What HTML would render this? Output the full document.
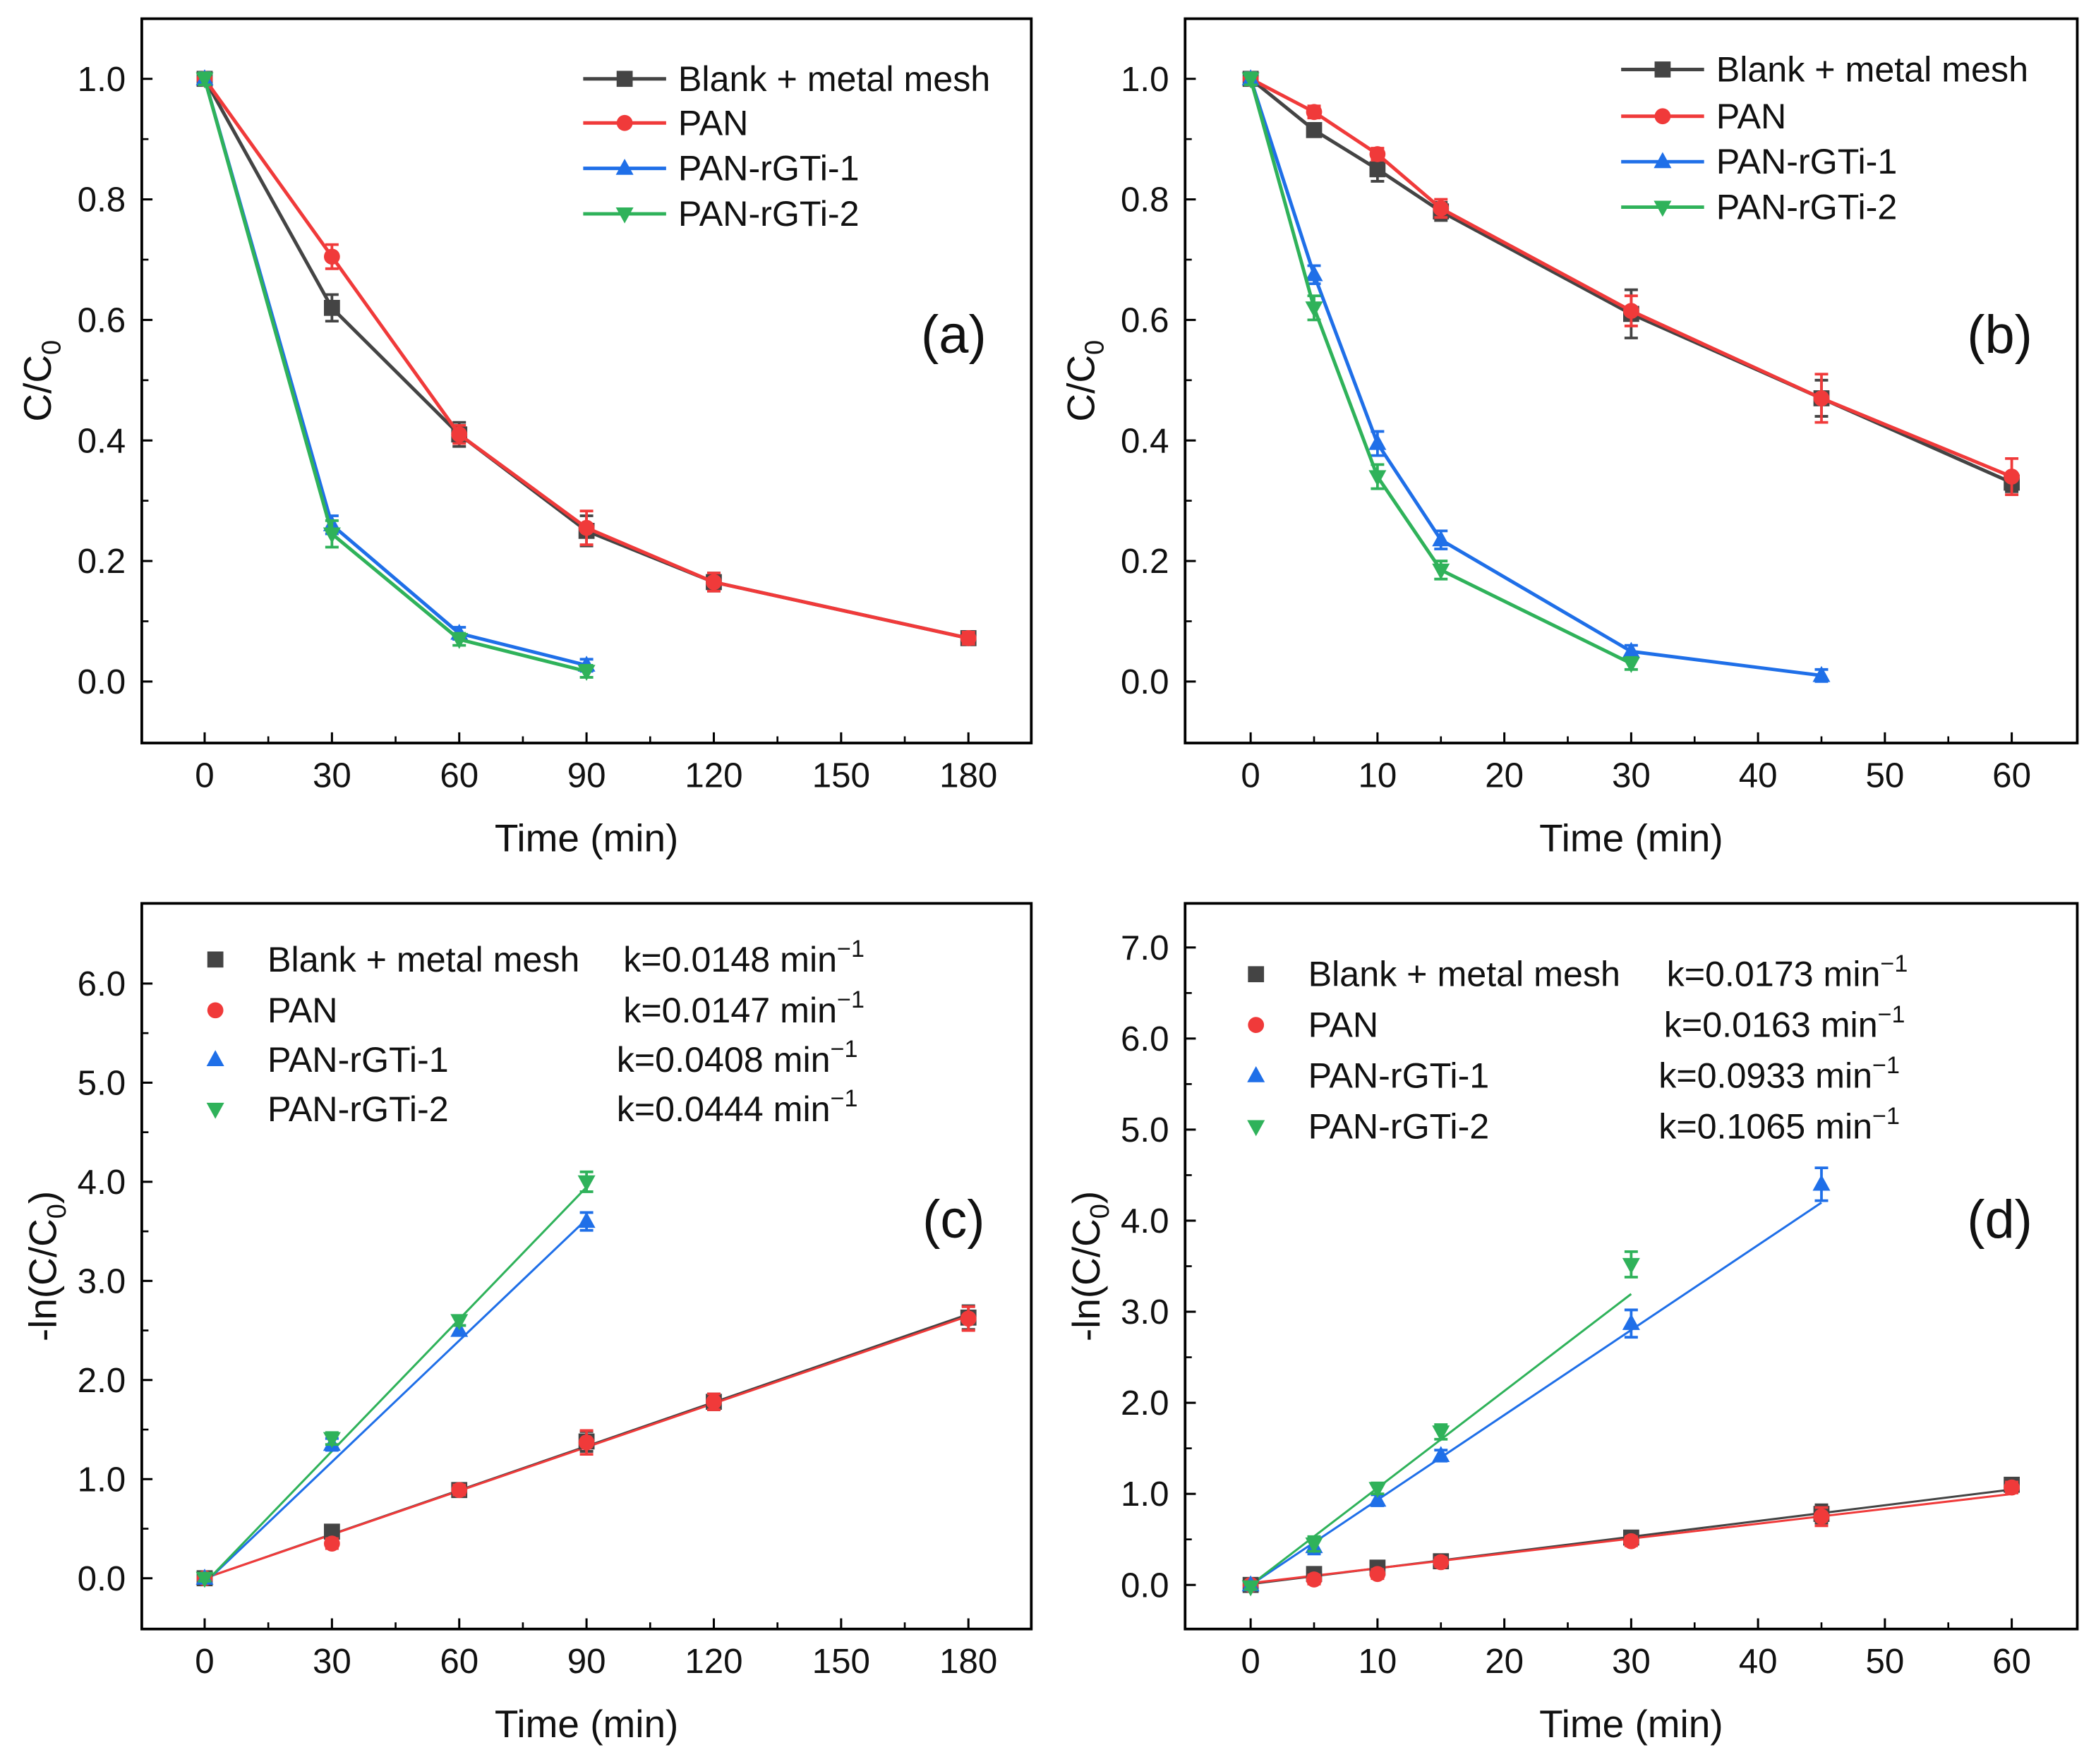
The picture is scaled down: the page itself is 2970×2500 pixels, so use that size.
<!DOCTYPE html>
<html><head><meta charset="utf-8"><style>
html,body{margin:0;padding:0;background:#fff;}
svg{display:block;font-family:"Liberation Sans",Arial,sans-serif;}
</style></head><body>
<svg id="fig" width="2970" height="2500" viewBox="0 0 1567 1320" preserveAspectRatio="none" xmlns="http://www.w3.org/2000/svg"></svg>
<script>
// ---- data ----
const aTime = [0, 30, 60, 90, 120, 180];
const aTimeShort = [0, 30, 60, 90];
const aBlank = [1, 0.62, 0.41, 0.25, 0.165, 0.072];
const aPAN = [1, 0.705, 0.41, 0.255, 0.165, 0.072];
const aG1 = [1, 0.26, 0.08, 0.027];
const aG2 = [1, 0.245, 0.07, 0.017];
const aBlankErr = [0.01, 0.022, 0.02, 0.025, 0.015, 0.01];
const aPANErr = [0.01, 0.02, 0.015, 0.028, 0.015, 0.01];
const aG1Err = [0.01, 0.015, 0.01, 0.01];
const aG2Err = [0.01, 0.022, 0.01, 0.01];

const bTime = [0, 5, 10, 15, 30, 45, 60];
const bTime1 = [0, 5, 10, 15, 30, 45];
const bTime2 = [0, 5, 10, 15, 30];
const bBlank = [1, 0.915, 0.85, 0.78, 0.61, 0.47, 0.33];
const bPAN = [1, 0.945, 0.875, 0.785, 0.615, 0.47, 0.34];
const bG1 = [1, 0.675, 0.395, 0.235, 0.05, 0.01];
const bG2 = [1, 0.62, 0.34, 0.185, 0.03];
const bBlankErr = [0.01, 0.01, 0.02, 0.015, 0.04, 0.03, 0.015];
const bPANErr = [0.01, 0.01, 0.01, 0.015, 0.025, 0.04, 0.03];
const bG1Err = [0.01, 0.015, 0.02, 0.015, 0.01, 0.01];
const bG2Err = [0.01, 0.02, 0.02, 0.015, 0.01];

const cBlank = [0, 0.47, 0.89, 1.38, 1.78, 2.63];
const cPAN = [0, 0.35, 0.89, 1.37, 1.78, 2.62];
const cG1 = [0, 1.35, 2.5, 3.6];
const cG2 = [0, 1.41, 2.6, 4.0];
const cBlankErr = [0.03, 0.05, 0.05, 0.1, 0.08, 0.12];
const cPANErr = [0.03, 0.05, 0.05, 0.12, 0.08, 0.12];
const cG1Err = [0.03, 0.06, 0.05, 0.09];
const cG2Err = [0.03, 0.06, 0.05, 0.1];
const cSlopes = [0.0148, 0.0147, 0.0408, 0.0444];
const cIntercepts = [0, 0, -0.05, -0.05];

const dBlank = [0, 0.12, 0.19, 0.26, 0.52, 0.78, 1.1];
const dPAN = [0, 0.06, 0.12, 0.25, 0.48, 0.75, 1.07];
const dG1 = [0, 0.42, 0.93, 1.42, 2.87, 4.4];
const dG2 = [-0.02, 0.45, 1.06, 1.68, 3.52];
const dBlankErr = [0.03, 0.05, 0.05, 0.05, 0.05, 0.1, 0.06];
const dPANErr = [0.03, 0.05, 0.05, 0.05, 0.05, 0.1, 0.06];
const dG1Err = [0.03, 0.08, 0.06, 0.06, 0.15, 0.18];
const dG2Err = [0.03, 0.08, 0.06, 0.08, 0.14];
const dSlopes = [0.0173, 0.0163, 0.0933, 0.1065];
const dIntercepts = [0.01, 0.02, 0.0, 0.0];

const seriesNames = ["Blank + metal mesh", "PAN", "PAN-rGTi-1", "PAN-rGTi-2"];
const kLabels = ["k=0.0148 min", "k=0.0147 min", "k=0.0408 min", "k=0.0444 min"];
const kLabelsD = ["k=0.0173 min", "k=0.0163 min", "k=0.0933 min", "k=0.1065 min"];
const xTicksA = [0, 30, 60, 90, 120, 150, 180];
const xTicksB = [0, 10, 20, 30, 40, 50, 60];
const yTicksAB = [0, 0.2, 0.4, 0.6, 0.8, 1.0];
const yTicksC = [0, 1, 2, 3, 4, 5, 6];
const yTicksD = [0, 1, 2, 3, 4, 5, 6, 7];

const colors = ["#444444", "#f03a3a", "#1f6fe8", "#2fb25a"];
const markers = ["square", "circle", "up", "down"];
const NS = "http://www.w3.org/2000/svg";
const svg = document.getElementById("fig");

function mk(tag, attrs, parent) {
  const e = document.createElementNS(NS, tag);
  for (const k in attrs) e.setAttribute(k, attrs[k]);
  (parent || svg).appendChild(e);
  return e;
}

function makePanel(p) {
  const g = mk("g", {});
  
  
  const X = v => p.px0 + (v - p.xv0) * p.xs;
  const Y = v => p.py0 - (v - p.yv0) * p.ys;
  p.X = X; p.Y = Y; p.g = g;
  const frame = mk("rect", {x: p.L, y: p.T, width: p.R - p.L, height: p.B - p.T, fill: "none", stroke: "#000", "stroke-width": 2}, g);
  
  
  p.xTicks.forEach((t, i) => {
    const x = X(t);
    const tk = mk("line", {x1: x, x2: x, y1: p.B, y2: p.B - 8, stroke: "#000", "stroke-width": 1.6}, g);
    
    
    const lb = mk("text", {x: x, y: p.B + 33, "text-anchor": "middle", "font-size": 26, fill: "#111"}, g);
    lb.textContent = String(t);
    
    
    if (i < p.xTicks.length - 1) {
      const mx = X((t + p.xTicks[i + 1]) / 2);
      const mt = mk("line", {x1: mx, x2: mx, y1: p.B, y2: p.B - 5, stroke: "#000", "stroke-width": 1.4}, g);
      
      
    }
  });
  p.yTicks.forEach((t, i) => {
    const y = Y(t);
    const tk = mk("line", {x1: p.L, x2: p.L + 8, y1: y, y2: y, stroke: "#000", "stroke-width": 1.6}, g);
    
    
    const lb = mk("text", {x: p.L - 12, y: y + 9, "text-anchor": "end", "font-size": 26, fill: "#111"}, g);
    lb.textContent = t.toFixed(1);
    
    
    if (i < p.yTicks.length - 1) {
      const my = Y((t + p.yTicks[i + 1]) / 2);
      const mt = mk("line", {x1: p.L, x2: p.L + 5, y1: my, y2: my, stroke: "#000", "stroke-width": 1.4}, g);
      
      
    }
  });
  const xt = mk("text", {x: (p.L + p.R) / 2, y: p.B + 81, "text-anchor": "middle", "font-size": 29, fill: "#111"}, g);
  xt.textContent = "Time (min)";
  
  
  const yt = mk("text", {x: 0, y: 0, "text-anchor": "middle", "font-size": 29, fill: "#111", transform: `translate(${p.ytX},${(p.T + p.B) / 2}) rotate(-90)`}, g);
  yt.innerHTML = p.ytitle;
  
  
  const pl = mk("text", {x: p.R - 58, y: p.T + 250, "text-anchor": "middle", "font-size": 40, fill: "#111"}, g);
  pl.textContent = p.label;
  
  
  return p;
}

function marker(type, x, y, c, parent, s) {
  s = s || 6;
  let e;
  if (type === "square") e = mk("rect", {x: x - s, y: y - s, width: 2 * s, height: 2 * s, fill: c}, parent);
  else if (type === "circle") e = mk("circle", {cx: x, cy: y, r: s, fill: c}, parent);
  else if (type === "up") e = mk("polygon", {points: `${x},${y - s * 1.2} ${x - s * 1.1},${y + s * 0.8} ${x + s * 1.1},${y + s * 0.8}`, fill: c}, parent);
  else e = mk("polygon", {points: `${x},${y + s * 1.2} ${x - s * 1.1},${y - s * 0.8} ${x + s * 1.1},${y - s * 0.8}`, fill: c}, parent);
  return e;
}

function series(p, xs, ys, errs, idx, withLine) {
  const c = colors[idx];
  const sg = mk("g", {}, p.g);
  
  
  if (withLine) {
    const ln = mk("polyline", {points: xs.map((x, i) => p.X(x) + "," + p.Y(ys[i])).join(" "), fill: "none", stroke: c, "stroke-width": 2.6}, sg);
    
    
  }
  xs.forEach((x, i) => {
    const px = p.X(x), y1 = p.Y(ys[i] + errs[i]), y2 = p.Y(ys[i] - errs[i]);
    const eb = mk("path", {d: `M${px - 5},${y1}H${px + 5}M${px},${y1}V${y2}M${px - 5},${y2}H${px + 5}`, stroke: c, "stroke-width": 2, fill: "none"}, sg);
    
    
    const m = marker(markers[idx], px, p.Y(ys[i]), c, sg);
    
    
  });
}

function fitLine(p, xEnd, k, b, idx) {
  const ln = mk("line", {x1: p.X(0), y1: p.Y(b), x2: p.X(xEnd), y2: p.Y(b + k * xEnd), stroke: colors[idx], "stroke-width": 1.6}, p.g);
  
  
}

function lineLegend(p, x0, ys) {
  const lg = mk("g", {}, p.g);
  
  
  seriesNames.forEach((n, i) => {
    const e = mk("g", {}, lg);
    
    
    mk("line", {x1: x0, x2: x0 + 62, y1: ys[i], y2: ys[i], stroke: colors[i], "stroke-width": 2.6}, e);
    marker(markers[i], x0 + 31, ys[i], colors[i], e);
    const t = mk("text", {x: x0 + 71, y: ys[i] + 9, "font-size": 26.5, fill: "#111"}, e);
    t.textContent = n;
  });
}

function kLegend(p, mx, kx, ys, labels) {
  const lg = mk("g", {}, p.g);
  
  
  seriesNames.forEach((n, i) => {
    const e = mk("g", {}, lg);
    
    
    marker(markers[i], mx, ys[i], colors[i], e);
    const t = mk("text", {x: mx + 39, y: ys[i] + 9, "font-size": 26.5, fill: "#111"}, e);
    t.textContent = n;
    const kt = mk("text", {x: kx[i], y: ys[i] + 9, "font-size": 26.5, fill: "#111"}, e);
    kt.innerHTML = labels[i] + '<tspan dy="-11" font-size="18">−1</tspan>';
  });
}

const C0 = 'C/C<tspan dy="7" font-size="20">0</tspan>';
const LN = '-ln(C/C<tspan dy="7" font-size="20">0</tspan><tspan dy="-7">)</tspan>';

const pa = makePanel({name: "panel-a", L: 106, R: 771, T: 14, B: 556, px0: 153, xv0: 0, xs: (724 - 153) / 180, py0: 510, yv0: 0, ys: 451, xTicks: xTicksA, yTicks: yTicksAB, ytitle: C0, ytX: 38, label: "(a)"});
series(pa, aTime, aBlank, aBlankErr, 0, true);
series(pa, aTime, aPAN, aPANErr, 1, true);
series(pa, aTimeShort, aG1, aG1Err, 2, true);
series(pa, aTimeShort, aG2, aG2Err, 3, true);
lineLegend(pa, 436, [59, 92, 126, 160]);

const pb = makePanel({name: "panel-b", L: 886, R: 1553, T: 14, B: 556, px0: 935, xv0: 0, xs: (1504 - 935) / 60, py0: 510, yv0: 0, ys: 451, xTicks: xTicksB, yTicks: yTicksAB, ytitle: C0, ytX: 818, label: "(b)"});
series(pb, bTime, bBlank, bBlankErr, 0, true);
series(pb, bTime, bPAN, bPANErr, 1, true);
series(pb, bTime1, bG1, bG1Err, 2, true);
series(pb, bTime2, bG2, bG2Err, 3, true);
lineLegend(pb, 1212, [52, 87, 121, 155]);

const pc = makePanel({name: "panel-c", L: 106, R: 771, T: 676, B: 1219, px0: 153, xv0: 0, xs: (724 - 153) / 180, py0: 1181, yv0: 0, ys: (1181 - 736) / 6, xTicks: xTicksA, yTicks: yTicksC, ytitle: LN, ytX: 42, label: "(c)"});
fitLine(pc, 180, cSlopes[0], cIntercepts[0], 0);
fitLine(pc, 180, cSlopes[1], cIntercepts[1], 1);
fitLine(pc, 90, cSlopes[2], cIntercepts[2], 2);
fitLine(pc, 90, cSlopes[3], cIntercepts[3], 3);
series(pc, aTime, cBlank, cBlankErr, 0, false);
series(pc, aTime, cPAN, cPANErr, 1, false);
series(pc, aTimeShort, cG1, cG1Err, 2, false);
series(pc, aTimeShort, cG2, cG2Err, 3, false);
kLegend(pc, 161, [466, 466, 461, 461], [718, 756, 793, 830], kLabels);

const pd = makePanel({name: "panel-d", L: 886, R: 1553, T: 676, B: 1219, px0: 935, xv0: 0, xs: (1504 - 935) / 60, py0: 1186, yv0: 0, ys: (1186 - 709) / 7, xTicks: xTicksB, yTicks: yTicksD, ytitle: LN, ytX: 822, label: "(d)"});
fitLine(pd, 60, dSlopes[0], dIntercepts[0], 0);
fitLine(pd, 60, dSlopes[1], dIntercepts[1], 1);
fitLine(pd, 45, dSlopes[2], dIntercepts[2], 2);
fitLine(pd, 30, dSlopes[3], dIntercepts[3], 3);
series(pd, bTime, dBlank, dBlankErr, 0, false);
series(pd, bTime, dPAN, dPANErr, 1, false);
series(pd, bTime1, dG1, dG1Err, 2, false);
series(pd, bTime2, dG2, dG2Err, 3, false);
kLegend(pd, 939, [1246, 1244, 1240, 1240], [729, 767, 805, 843], kLabelsD);
</script>
</body></html>
